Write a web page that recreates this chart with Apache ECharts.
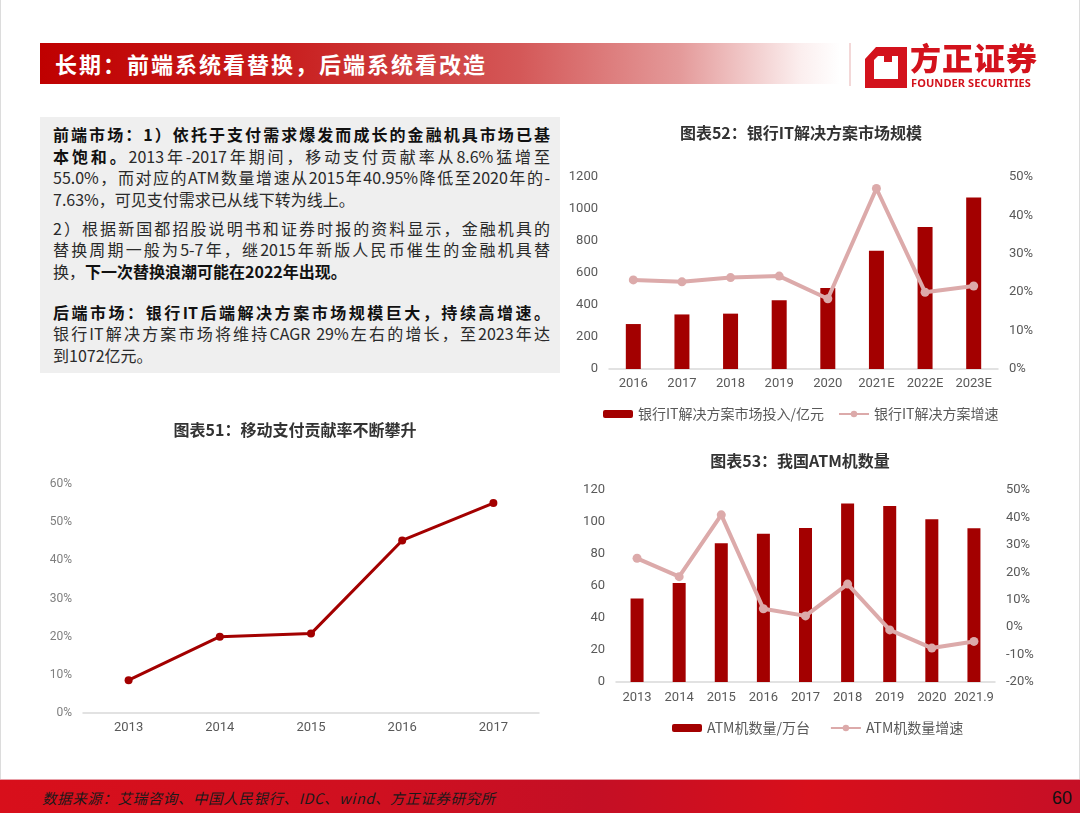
<!DOCTYPE html>
<html>
<head>
<meta charset="utf-8">
<script src="https://cdn.jsdelivr.net/npm/echarts/dist/echarts.min.js"></script>
<style>
  body { margin: 0; background: #fff; font-family: "Noto Sans CJK SC", sans-serif; }
  #page { position: relative; width: 1080px; height: 813px; overflow: hidden; background: #fff; }
  #page .edge { position: absolute; top: 0; bottom: 0; width: 1px; background: #dcdcdc; }
  #chart { position: absolute; left: 0; top: 0; width: 1080px; height: 813px; }
  .banner { position: absolute; left: 40px; top: 43px; width: 800px; height: 41px;
    background: linear-gradient(to right, #bf0000 0%, #c81d1d 30%, #d45858 60%, #e49a9a 80%, #fbeeee 95%, #fff 100%); }
  .banner span { position: absolute; left: 15px; top: 0; line-height: 41px; color: #fff;
    font-size: 22px; font-weight: bold; letter-spacing: 2px; }
  .sep { position: absolute; left: 849px; top: 43px; width: 2px; height: 43px; background: #f3d8d8; }
  .logo-cn { position: absolute; left: 910px; top: 40px; font-size: 31px; font-weight: 900; color: #d3121c; letter-spacing: 1px; line-height: 34px; }
  .logo-en { position: absolute; left: 911px; top: 76px; font-family: "Noto Sans", sans-serif; font-size: 11px; font-weight: bold; color: #d3121c; line-height: 13px; letter-spacing: 0.1px; }
  .box { position: absolute; left: 40px; top: 117px; width: 520px; height: 256px; background: #efefef;
    box-sizing: border-box; padding: 7px 10px 0 13px; font-size: 16px; line-height: 21.5px; color: #2a2a2a; }
  .box div { text-align: justify; text-align-last: justify; white-space: nowrap; }
  .box div.last { text-align-last: left; }
  .box b { color: #111; }
  .box .p2 { margin-top: 7.5px; }
  .box .p3 { margin-top: 19.5px; }
  .foot { position: absolute; left: 0; top: 779px; width: 1080px; height: 34px;
    background: linear-gradient(to right, #d80f1b 0%, #cf1020 35%, #c40f25 55%, #d80f1b 75%, #c60f26 100%);
    border-top: 1px solid #e8a0a8; }
  .foot .src { position: absolute; left: 42px; top: 0; line-height: 36px; font-size: 14.5px; letter-spacing: 0.6px; font-style: italic; color: #1a1a1a; }
  .foot .num { position: absolute; right: 8px; top: 0; line-height: 36px; font-family: "Liberation Sans", sans-serif; font-size: 18px; color: #111; }
</style>
</head>
<body>
<div id="page">
  <div class="edge" style="left:0"></div>
  <div class="edge" style="right:0"></div>
  <div id="chart"></div>
  <div class="banner"><span>长期：前端系统看替换，后端系统看改造</span></div>
  <div class="sep"></div>
  <svg style="position:absolute;left:862px;top:46px" width="48" height="44" viewBox="0 0 48 44">
    <path fill="#d3121c" fill-rule="evenodd"
      d="M14 1 L45 1 L45 42 L3 42 L3 13 Z M12 14 L12 33 L36 33 L36 10 L30 10 L30 16 L22 16 L22 10 L16 10 Z"/>
  </svg>
  <div class="logo-cn">方正证券</div>
  <div class="logo-en">FOUNDER SECURITIES</div>
  <div class="box">
    <div><b>前端市场：1）依托于支付需求爆发而成长的金融机具市场已基</b></div>
    <div><b>本饱和。</b>2013年-2017年期间，移动支付贡献率从8.6%猛增至</div>
    <div>55.0%，而对应的ATM数量增速从2015年40.95%降低至2020年的-</div>
    <div class="last">7.63%，可见支付需求已从线下转为线上。</div>
    <div class="p2">2）根据新国都招股说明书和证券时报的资料显示，金融机具的</div>
    <div>替换周期一般为5-7年，继2015年新版人民币催生的金融机具替</div>
    <div class="last">换，<b>下一次替换浪潮可能在2022年出现。</b></div>
    <div class="p3"><b>后端市场：银行IT后端解决方案市场规模巨大，持续高增速。</b></div>
    <div>银行IT解决方案市场将维持CAGR 29%左右的增长，至2023年达</div>
    <div class="last">到1072亿元。</div>
  </div>
  <div class="foot">
    <span class="src">数据来源：艾瑞咨询、中国人民银行、IDC、wind、方正证券研究所</span>
    <span class="num">60</span>
  </div>
</div>
<script>
// 图表51 移动支付贡献率
const years51 = ['2013', '2014', '2015', '2016', '2017'];
const mobileShare = [8.6, 20.0, 20.8, 45.2, 55.0];

// 图表52 银行IT解决方案市场规模
const years52 = ['2016', '2017', '2018', '2019', '2020', '2021E', '2022E', '2023E'];
const itInvest = [281, 341, 346, 429, 506, 739, 887, 1072];
const itGrowth = [23.2, 22.7, 23.8, 24.2, 18.3, 47.0, 20.0, 21.6];

// 图表53 我国ATM机数量
const years53 = ['2013', '2014', '2015', '2016', '2017', '2018', '2019', '2020', '2021.9'];
const atmCount = [52.2, 61.8, 86.7, 92.6, 96.3, 111.5, 110.0, 101.7, 96.1];
const atmGrowth = [25.1, 18.4, 40.95, 6.7, 4.1, 15.7, -1.0, -7.63, -5.2];

const darkRed = '#a30000';
const pink = '#dcaaaa';
const axisGray = '#595959';

const plain = v => String(v);
const pct = v => v + '%';

function catAxis(grid, data, margin) {
  return {
    type: 'category', gridIndex: grid, data: data,
    axisLine: { lineStyle: { color: '#d9d9d9', width: 1.5 } },
    axisTick: { show: false },
    axisLabel: { color: axisGray, fontSize: 13, margin: margin, interval: 0 }
  };
}
function valAxis(grid, min, max, step, pos, fmt, color, size) {
  return {
    type: 'value', gridIndex: grid, min: min, max: max, interval: step, position: pos,
    splitLine: { show: false }, axisLine: { show: false }, axisTick: { show: false },
    axisLabel: { color: color, fontSize: size, margin: 11, formatter: fmt }
  };
}

const chart = echarts.init(document.getElementById('chart'));
chart.setOption({
  animation: false,
  textStyle: { fontFamily: 'Roboto, "Noto Sans CJK SC", sans-serif' },
  title: [
    { text: '图表51：移动支付贡献率不断攀升', left: 290, top: 417, textAlign: 'center',
      textStyle: { fontSize: 16, fontWeight: 'bold', color: '#333', fontFamily: '"Noto Sans CJK SC"' } },
    { text: '图表52：银行IT解决方案市场规模', left: 796, top: 120, textAlign: 'center',
      textStyle: { fontSize: 16, fontWeight: 'bold', color: '#333', fontFamily: '"Noto Sans CJK SC"' } },
    { text: '图表53：我国ATM机数量', left: 795, top: 448, textAlign: 'center',
      textStyle: { fontSize: 16, fontWeight: 'bold', color: '#333', fontFamily: '"Noto Sans CJK SC"' } }
  ],
  legend: [
    { left: 598, top: 402, itemWidth: 30, itemHeight: 8, itemGap: 14,
      data: ['银行IT解决方案市场投入/亿元', '银行IT解决方案增速'],
      textStyle: { color: axisGray, fontSize: 14, fontFamily: '"Noto Sans CJK SC"' } },
    { left: 667, top: 716, itemWidth: 30, itemHeight: 8, itemGap: 20,
      data: ['ATM机数量/万台', 'ATM机数量增速'],
      textStyle: { color: axisGray, fontSize: 14, fontFamily: '"Noto Sans CJK SC"' } }
  ],
  grid: [
    { left: 83, top: 484, width: 456, height: 229 },
    { left: 609, top: 177, width: 389, height: 192 },
    { left: 616, top: 490, width: 379, height: 192 }
  ],
  xAxis: [
    catAxis(0, years51, 8),
    catAxis(1, years52, 8),
    catAxis(2, years53, 9)
  ],
  yAxis: [
    valAxis(0, 0, 60, 10, 'left', pct, '#7f7f7f', 12),
    valAxis(1, 0, 1200, 200, 'left', plain, axisGray, 13),
    valAxis(1, 0, 50, 10, 'right', pct, axisGray, 13),
    valAxis(2, 0, 120, 20, 'left', plain, axisGray, 13),
    valAxis(2, -20, 50, 10, 'right', pct, axisGray, 13)
  ],
  series: [
    { name: '移动支付贡献率', type: 'line', xAxisIndex: 0, yAxisIndex: 0, data: mobileShare,
      symbol: 'circle', symbolSize: 8, color: darkRed, lineStyle: { width: 3, color: darkRed } },
    { name: '银行IT解决方案市场投入/亿元', type: 'bar', xAxisIndex: 1, yAxisIndex: 1, data: itInvest,
      barWidth: 15, color: darkRed },
    { name: '银行IT解决方案增速', type: 'line', xAxisIndex: 1, yAxisIndex: 2, data: itGrowth,
      symbol: 'circle', symbolSize: 9, color: pink, lineStyle: { width: 4, color: pink } },
    { name: 'ATM机数量/万台', type: 'bar', xAxisIndex: 2, yAxisIndex: 3, data: atmCount,
      barWidth: 13, color: darkRed },
    { name: 'ATM机数量增速', type: 'line', xAxisIndex: 2, yAxisIndex: 4, data: atmGrowth,
      symbol: 'circle', symbolSize: 9, color: pink, lineStyle: { width: 4, color: pink } }
  ]
});
</script>
</body>
</html>
